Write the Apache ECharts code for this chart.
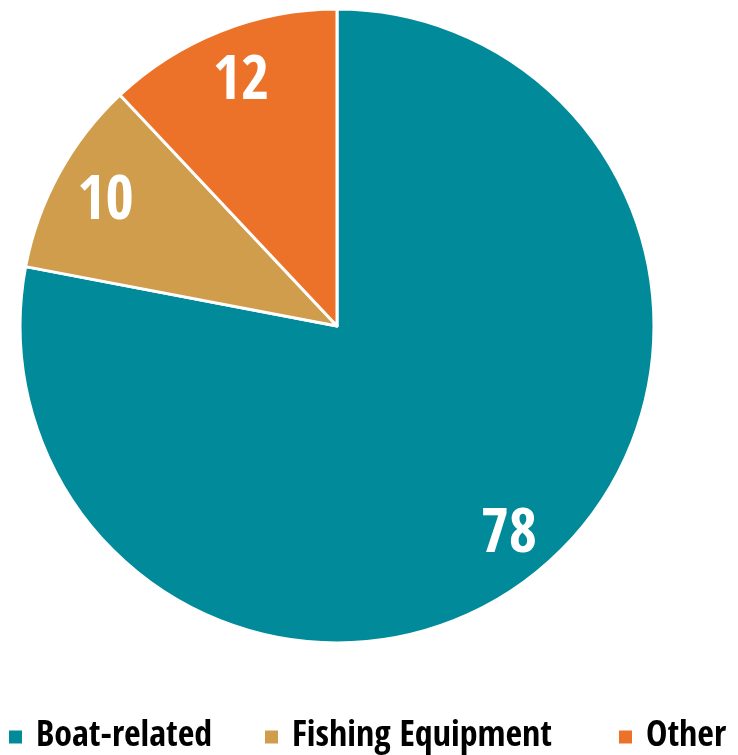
<!DOCTYPE html>
<html><head><meta charset="utf-8">
<script src="https://cdn.jsdelivr.net/npm/echarts@6/dist/echarts.min.js"></script>
<style>html,body{margin:0;padding:0;background:#fff}#c{width:738px;height:755px}</style>
</head><body><div id="c"></div>
<script>
const categories = ['Boat-related', 'Fishing Equipment', 'Other'];
const values = [78, 10, 12];
const colors = ['#018A99', '#D09D4C', '#EC7229'];
const legendLeft = [7, 263, 617];
const FONT = "'Noto Sans Condensed','Open Sans Condensed','Roboto Condensed','DejaVu Sans Condensed',sans-serif";
const data = categories.map((n, i) => ({ name: n, value: values[i], itemStyle: { color: colors[i] } }));
const chart = echarts.init(document.getElementById('c'));
chart.setOption({
  animation: false,
  legend: categories.map((n, i) => ({
    data: [n],
    left: legendLeft[i], bottom: 0, padding: 0,
    itemWidth: 15, itemHeight: 15,
    icon: 'rect',
    textStyle: { fontFamily: FONT, fontWeight: 'bold', fontSize: 36, color: '#000', padding: [0, 0, 0, 8] }
  })),
  series: [{
    type: 'pie', center: [337, 326], radius: [0, 317],
    startAngle: 90, clockwise: true,
    label: { show: false }, labelLine: { show: false },
    itemStyle: { borderColor: '#fff', borderWidth: 3 },
    data: data
  }, {
    type: 'pie', center: [337, 326], radius: [210, 317],
    startAngle: 90, clockwise: true, silent: true,
    itemStyle: { color: 'transparent' },
    label: { show: true, position: 'inside', formatter: '{c}', color: '#fff', fontFamily: FONT, fontWeight: 'bold', fontSize: 61, offset: [2, 5] },
    labelLine: { show: false },
    data: categories.map((n, i) => ({ name: n + ' ', value: values[i], itemStyle: { color: 'transparent' } }))
  }]
});
</script></body></html>
